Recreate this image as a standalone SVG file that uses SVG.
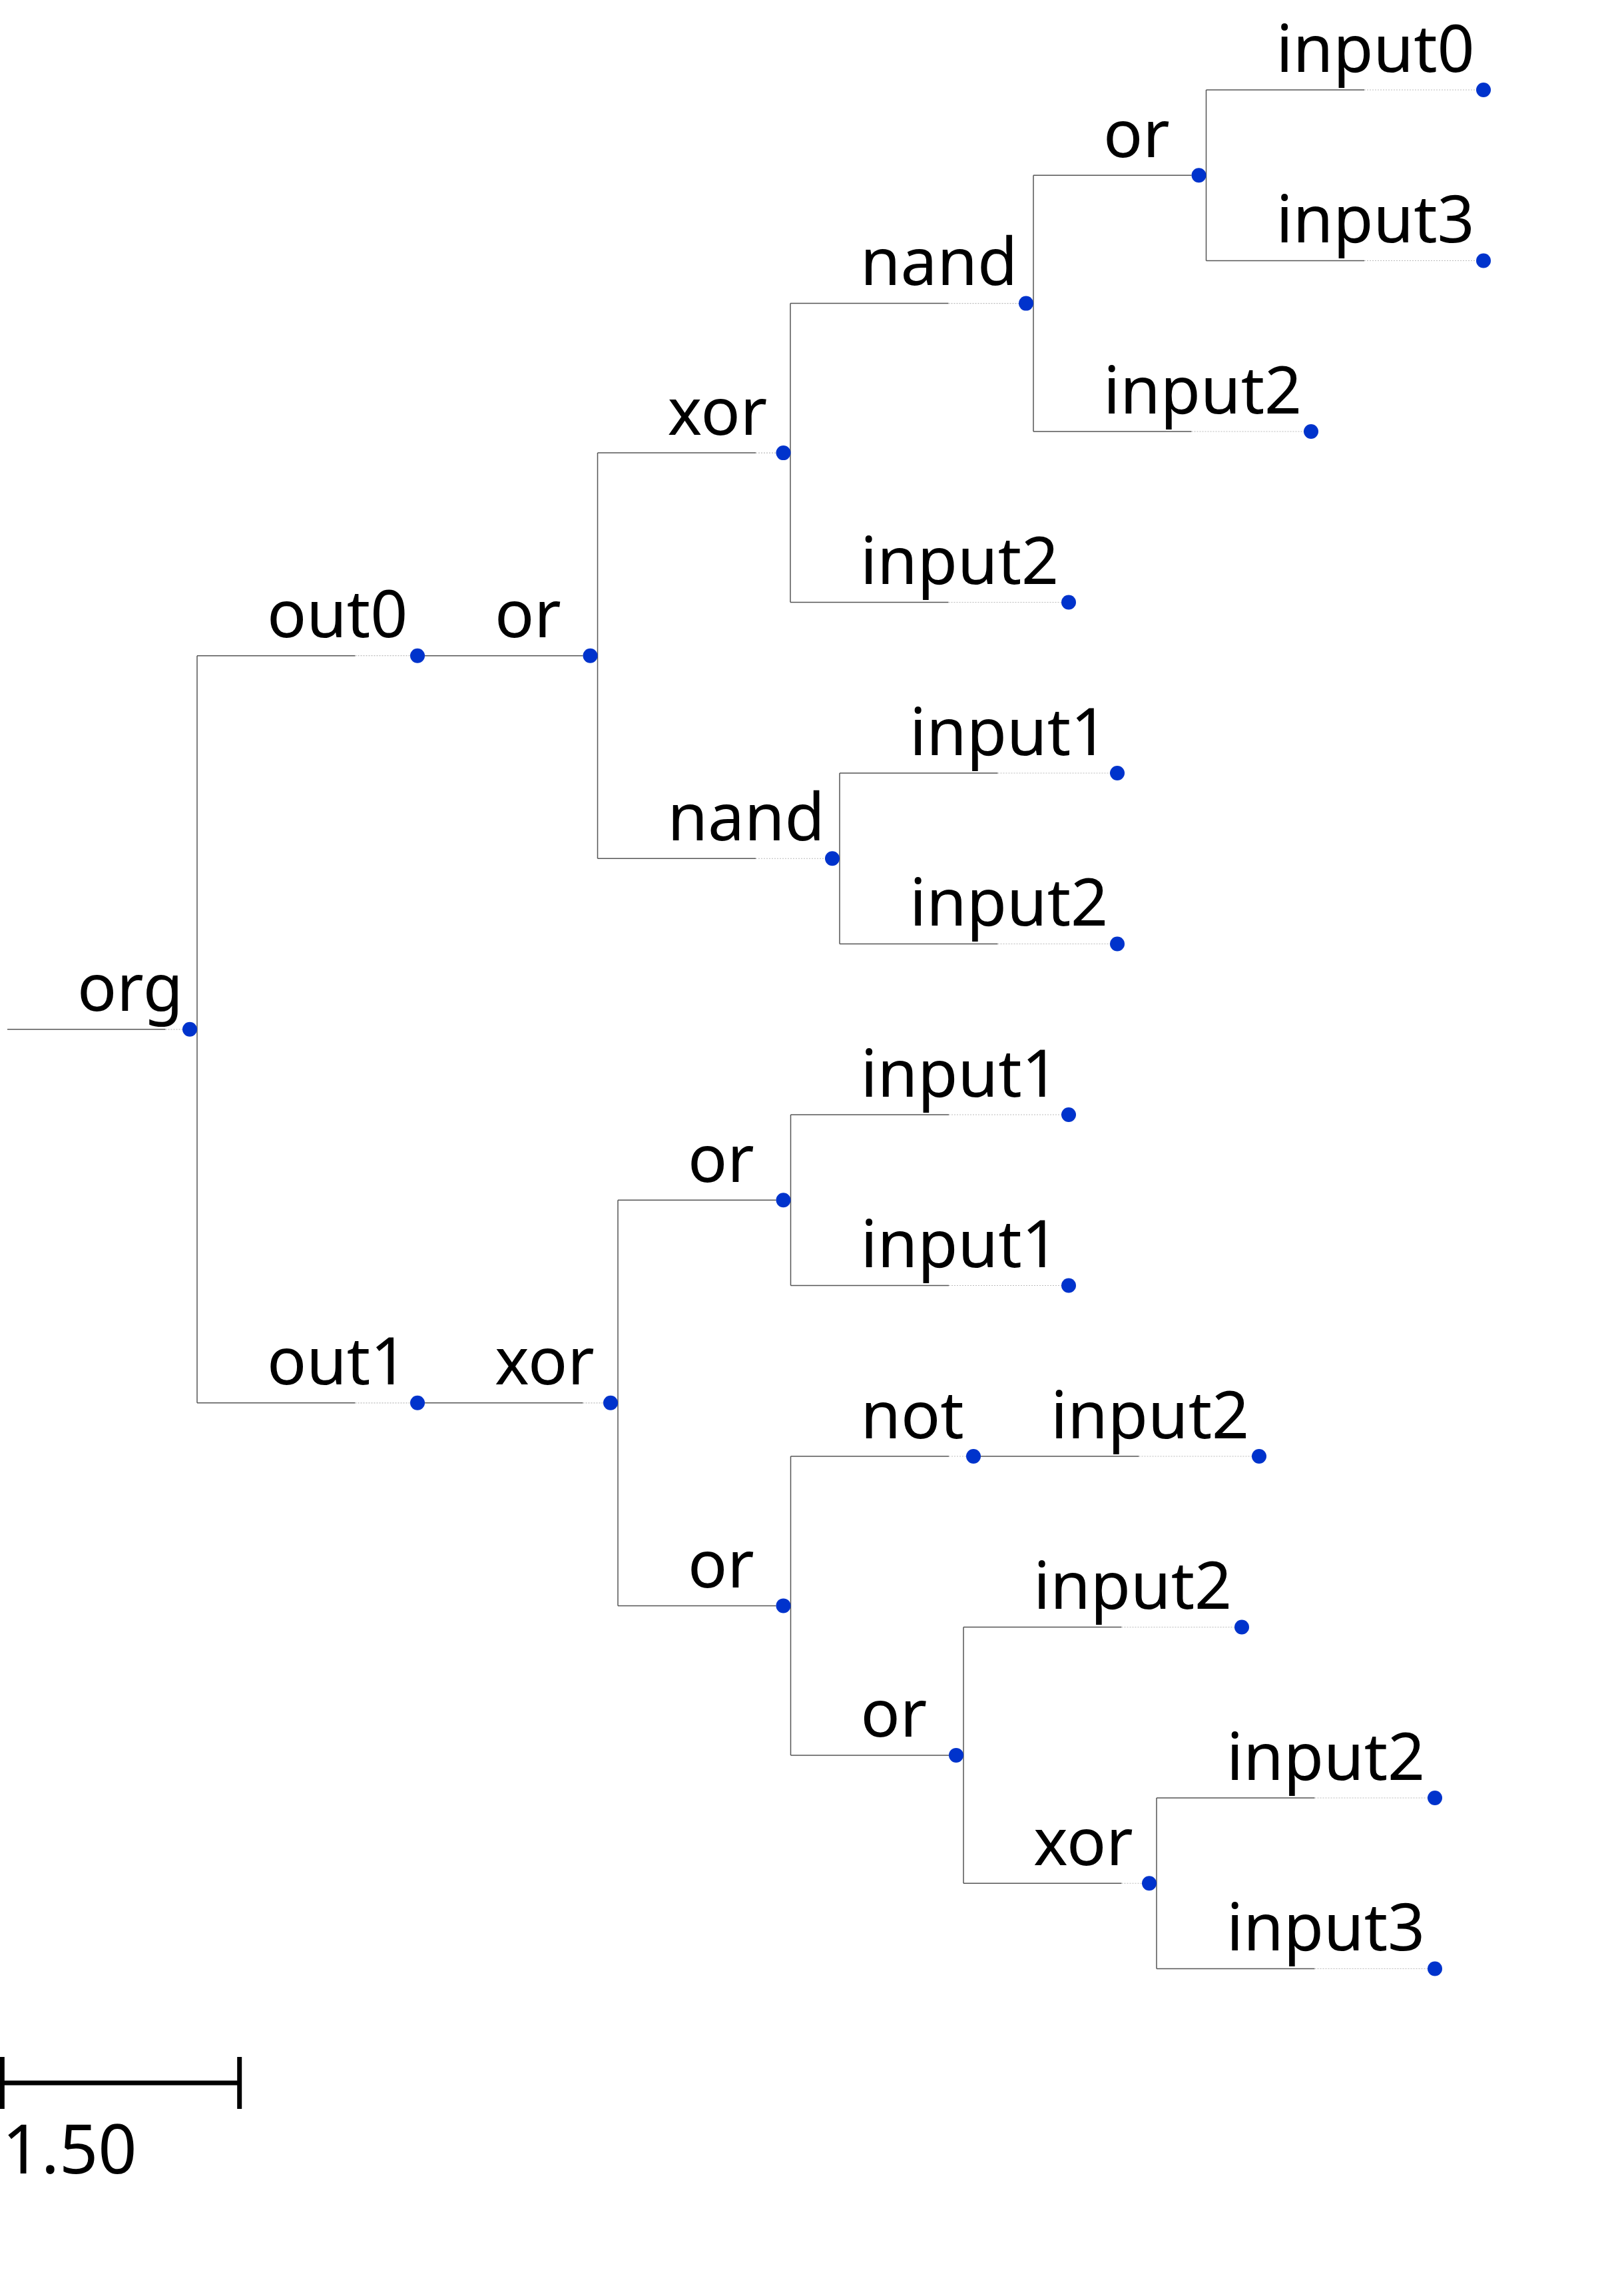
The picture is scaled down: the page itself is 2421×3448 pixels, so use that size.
<svg xmlns="http://www.w3.org/2000/svg" width="2421" height="3448" viewBox="0 0 2421 3448">
<style>
.br{stroke:#555;stroke-width:1.5;fill:none}
.ext{stroke:#bbb;stroke-width:1.2;stroke-dasharray:2 2;fill:none}
.dot{fill:#0033cc}
.lbl{font-family:"Noto Sans","Open Sans",sans-serif;font-size:98px;fill:#000}
.sc{stroke:#000;stroke-width:7;fill:none}
</style>
<rect width="2421" height="3448" fill="#fff"/>
<g id="connectors">
<path class="br" d="M11 1545.8H248.5 M296 984.7H533.5 M638 984.7H875.5 M897.5 680.1H1135 M1187 455.6H1424.5 M1552 263.25H1789.5 M1811.5 135H2049 M1811.5 391.5H2049 M1552 648H1789.5 M1187 904.5H1424.5 M897.5 1289.25H1135 M1261 1161H1498.5 M1261 1417.5H1498.5 M296 2106.8H533.5 M638 2106.8H875.5 M928 1802.25H1165.5 M928 2411.4H1165.5 M1187.5 1674H1425 M1187.5 1930.5H1425 M1187.5 2187H1425 M1473 2187H1710.5 M1187.5 2635.9H1425 M1447 2443.5H1684.5 M1447 2828.25H1684.5 M1737 2700H1974.5 M1737 2956.5H1974.5"/>
<path class="br" d="M296 984.7V2106.8 M897.5 680.1V1289.25 M1187 455.6V904.5 M1552 263.25V648 M1811.5 135V391.5 M1261 1161V1417.5 M928 1802.25V2411.4 M1187.5 1674V1930.5 M1187.5 2187V2635.9 M1447 2443.5V2828.25 M1737 2700V2956.5"/>
<path class="ext" d="M248.5 1545.8H274 M533.5 984.7H616 M1135 680.1H1165.5 M1424.5 455.6H1530 M2049 135H2217 M2049 391.5H2217 M1789.5 648H1958 M1424.5 904.5H1594 M1135 1289.25H1239 M1498.5 1161H1667 M1498.5 1417.5H1667 M533.5 2106.8H616 M875.5 2106.8H906 M1425 1674H1594 M1425 1930.5H1594 M1425 2187H1451 M1710.5 2187H1880 M1684.5 2443.5H1854 M1684.5 2828.25H1715 M1974.5 2700H2144 M1974.5 2956.5H2144"/>
</g>
<g id="n_org"><circle class="dot" cx="285" cy="1545.8" r="11"/><text class="lbl" x="116" y="1518.3">org</text></g>
<g id="n_out0"><circle class="dot" cx="627" cy="984.7" r="11"/><text class="lbl" x="401" y="957.2">out0</text></g>
<g id="n_or1"><circle class="dot" cx="886.5" cy="984.7" r="11"/><text class="lbl" x="743" y="957.2">or</text></g>
<g id="n_xor1"><circle class="dot" cx="1176.5" cy="680.1" r="11"/><text class="lbl" x="1002.5" y="652.6">xor</text></g>
<g id="n_nand1"><circle class="dot" cx="1541" cy="455.6" r="11"/><text class="lbl" x="1292" y="428.1">nand</text></g>
<g id="n_or2"><circle class="dot" cx="1800.5" cy="263.25" r="11"/><text class="lbl" x="1657" y="235.75">or</text></g>
<g id="n_input0"><circle class="dot" cx="2228" cy="135" r="11"/><text class="lbl" x="1916.5" y="107.5">input0</text></g>
<g id="n_input3a"><circle class="dot" cx="2228" cy="391.5" r="11"/><text class="lbl" x="1916.5" y="364">input3</text></g>
<g id="n_input2a"><circle class="dot" cx="1969" cy="648" r="11"/><text class="lbl" x="1657" y="620.5">input2</text></g>
<g id="n_input2b"><circle class="dot" cx="1605" cy="904.5" r="11"/><text class="lbl" x="1292" y="877">input2</text></g>
<g id="n_nand2"><circle class="dot" cx="1250" cy="1289.25" r="11"/><text class="lbl" x="1002.5" y="1261.75">nand</text></g>
<g id="n_input1a"><circle class="dot" cx="1678" cy="1161" r="11"/><text class="lbl" x="1366" y="1133.5">input1</text></g>
<g id="n_input2c"><circle class="dot" cx="1678" cy="1417.5" r="11"/><text class="lbl" x="1366" y="1390">input2</text></g>
<g id="n_out1"><circle class="dot" cx="627" cy="2106.8" r="11"/><text class="lbl" x="401" y="2079.3">out1</text></g>
<g id="n_xor2"><circle class="dot" cx="917" cy="2106.8" r="11"/><text class="lbl" x="743" y="2079.3">xor</text></g>
<g id="n_or3"><circle class="dot" cx="1176.5" cy="1802.25" r="11"/><text class="lbl" x="1033" y="1774.75">or</text></g>
<g id="n_input1b"><circle class="dot" cx="1605" cy="1674" r="11"/><text class="lbl" x="1292.5" y="1646.5">input1</text></g>
<g id="n_input1c"><circle class="dot" cx="1605" cy="1930.5" r="11"/><text class="lbl" x="1292.5" y="1903">input1</text></g>
<g id="n_or4"><circle class="dot" cx="1176.5" cy="2411.4" r="11"/><text class="lbl" x="1033" y="2383.9">or</text></g>
<g id="n_not"><circle class="dot" cx="1462" cy="2187" r="11"/><text class="lbl" x="1292.5" y="2159.5">not</text></g>
<g id="n_input2d"><circle class="dot" cx="1891" cy="2187" r="11"/><text class="lbl" x="1578" y="2159.5">input2</text></g>
<g id="n_or5"><circle class="dot" cx="1436" cy="2635.9" r="11"/><text class="lbl" x="1292.5" y="2608.4">or</text></g>
<g id="n_input2e"><circle class="dot" cx="1865" cy="2443.5" r="11"/><text class="lbl" x="1552" y="2416">input2</text></g>
<g id="n_xor3"><circle class="dot" cx="1726" cy="2828.25" r="11"/><text class="lbl" x="1552" y="2800.75">xor</text></g>
<g id="n_input2f"><circle class="dot" cx="2155" cy="2700" r="11"/><text class="lbl" x="1842" y="2672.5">input2</text></g>
<g id="n_input3b"><circle class="dot" cx="2155" cy="2956.5" r="11"/><text class="lbl" x="1842" y="2929">input3</text></g>
<g id="scale">
<path class="sc" d="M3.3 3128H359.7 M3.3 3089V3167 M359.7 3089V3167"/>
<text x="3.3" y="3264" font-family="Noto Sans, Open Sans, sans-serif" font-size="102" fill="#000">1.50</text>
</g>
</svg>
